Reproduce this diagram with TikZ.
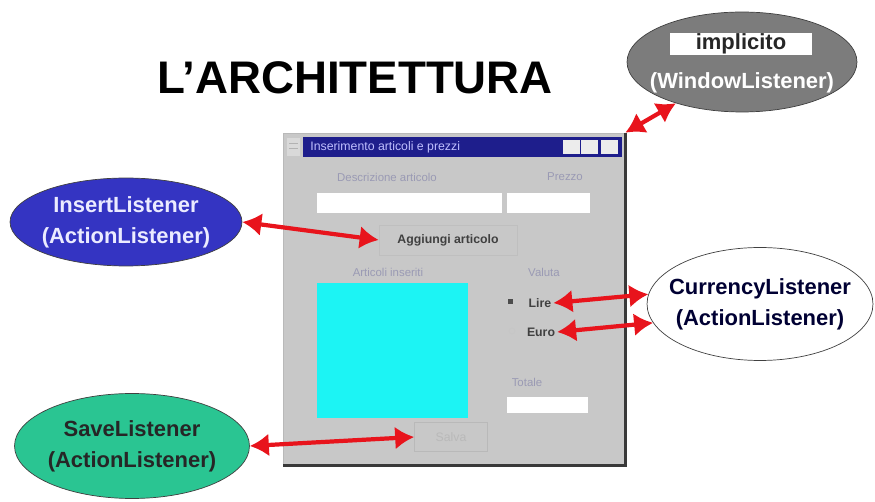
\documentclass[tikz,border=0pt]{standalone}
\usepackage{fontspec}
\setmainfont{Liberation Sans}
\usetikzlibrary{shapes.geometric,arrows.meta}
\definecolor{winGray}{HTML}{C8C8C8}
\definecolor{titleBlue}{HTML}{1E1E8C}
\definecolor{fieldCyan}{HTML}{1CF4F4}
\definecolor{arrowRed}{HTML}{E8141C}
\definecolor{insertBlue}{HTML}{3434C2}
\definecolor{saveGreen}{HTML}{2AC592}
\definecolor{listenerGray}{HTML}{7C7C7C}
\definecolor{labelGray}{HTML}{9A9AB4}
\begin{document}
\begin{tikzpicture}
	[x=0.02cm,y=-0.02cm,
	 listener/.style={ellipse,draw=black!75,inner sep=0pt},
	 listenertext/.style={align=center,inner sep=0pt,font=\bfseries\fontsize{12.5}{17.5}\selectfont},
	 link/.style={{Latex[length=0.38cm,width=0.46cm]}-{Latex[length=0.38cm,width=0.46cm]},line width=2.4pt,arrowRed},
	 caption/.style={inner sep=0pt,text=labelGray,font=\fontsize{6.5}{7}\selectfont},
	 widget/.style={inner sep=1pt,font=\bfseries\fontsize{7}{8}\selectfont,text=black!75}]
	\useasboundingbox (0,0) rectangle (875,502);

	% title
	\node[font=\bfseries\fontsize{26}{30}\selectfont] (title) at (355,78) {L’ARCHITETTURA};

	% the window with its title bar
	\node[fill=winGray,draw=gray!55,minimum width=6.84cm,minimum height=6.64cm,inner sep=0pt] (window) at (454,299) {};
	\draw[gray!45!black,line width=1.5pt] (window.north east) -- (window.south east) -- (window.south west);
	\fill[titleBlue] (303,137) rectangle (622,157);
	\fill[gray!30] (287,138) rectangle (300,156);
	\draw[gray!60] (289,143) -- (298,143) (289,148) -- (298,148);
	\node[anchor=west,inner sep=0pt,text=blue!25,font=\fontsize{7}{8}\selectfont] (wintitle) at (310,147) {Inserimento articoli e prezzi};
	\foreach \bx in {563,581,601}
		\fill[gray!15] (\bx,140) rectangle ++(17,14);

	% upper part: description, price and add button
	\node[caption] (descr) at (387,177) {Descrizione articolo};
	\node[caption] (price) at (565,177) {Prezzo};
	\fill[white] (317,193) rectangle (502,213);
	\fill[white] (507,193) rectangle (590,213);
	\node[widget,fill=winGray,draw=gray!50,minimum width=2.76cm,minimum height=0.6cm] (addbtn) at (448,240) {Aggiungi articolo};

	% lower part: list, currency and total
	\node[caption] (list) at (388,272) {Articoli inseriti};
	\fill[fieldCyan] (317,283) rectangle (468,418);
	\node[caption] (currencycap) at (544,272) {Valuta};
	\fill[black!70] (508,299) rectangle (513,304);
	\node[widget] (lire) at (540,303) {Lire};
	\draw[gray!45] (512,331) circle (3);
	\node[widget] (euro) at (541,332) {Euro};
	\node[caption] (total) at (527,382) {Totale};
	\fill[white] (507,397) rectangle (588,413);
	\node[widget,draw=gray!55,text=gray!55,font=\fontsize{7}{8}\selectfont,minimum width=1.46cm,minimum height=0.58cm] (savebtn) at (451,437) {Salva};

	% the listeners
	\node[listener,fill=listenerGray,minimum width=4.6cm,minimum height=2cm] (windowlistener) at (742,62) {};
	\node[fill=white,inner sep=0pt,minimum width=2.86cm,minimum height=0.44cm,font=\bfseries\fontsize{12.5}{15}\selectfont,text=black!85] (implicit) at (741,44) {implicito};
	\node[listenertext,text=white] (windowtext) at (742,83) {(WindowListener)};
	\node[listener,fill=insertBlue,minimum width=4.64cm,minimum height=1.76cm,
		label={[listenertext,text=blue!8]center:{InsertListener\\(ActionListener)}}] (insert) at (126,222) {};
	\node[listener,fill=white,minimum width=4.52cm,minimum height=2.26cm,
		label={[listenertext,text=black!80!blue]center:{CurrencyListener\\(ActionListener)}}] (currency) at (760,304) {};
	\node[listener,fill=saveGreen,minimum width=4.7cm,minimum height=2.1cm,
		label={[listenertext,text=black!85]center:{SaveListener\\(ActionListener)}}] (save) at (132,446) {};

	% the links
	\draw[link] (window.north east) -- (windowlistener.212);
	\draw[link] (insert.east) -- (addbtn.west);
	\draw[link] (lire.east) -- (currency.175);
	\draw[link] (euro.east) -- (currency.190);
	\draw[link] (save.east) -- (savebtn.west);
\end{tikzpicture}
\end{document}
